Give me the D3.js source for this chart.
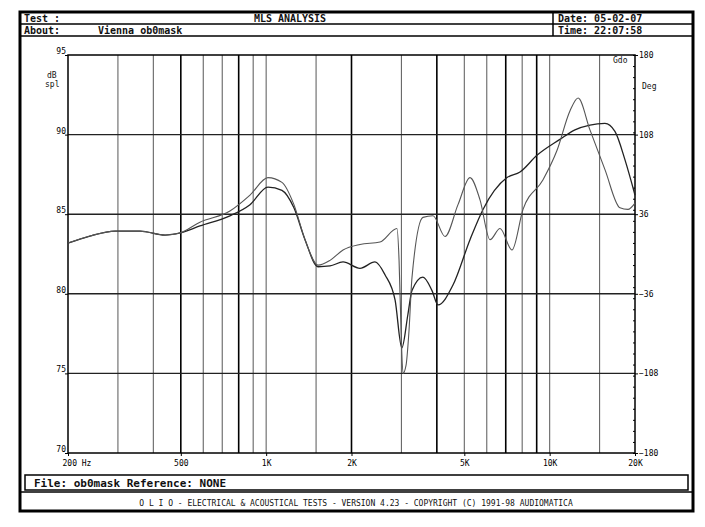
<!DOCTYPE html><html><head><meta charset="utf-8">
<script src="https://cdn.jsdelivr.net/npm/d3@7/dist/d3.min.js"></script>
<style>body{margin:0;background:#fff}text{font-family:"DejaVu Sans Mono",monospace;}</style></head><body>
<svg id="c" width="705" height="527"></svg>
<script>
const gridFreqs=[300,400,500,600,700,800,900,1000,1500,2000,3000,4000,5000,6000,7000,8000,9000,10000,15000];
const thickFreqs=[500,800,2000,4000,7000,9000];
const xTicks=[[200,"200  Hz"],[500,"500"],[1000,"1K"],[2000,"2K"],[5000,"5K"],[10000,"10K"],[20000,"20K"]];
const dbTicks=[95,90,85,80,75,70];
const degTicks=[180,108,36,-36,-108,-180];
const sharedF=[200,239,293,359,440,497];
const sharedD=[83.19,83.63,83.94,83.94,83.69,83.82];
const curveBF=[584,745,877,1015,1137,1253,1371,1524,1680,1867,2143,2520,2894,2943,2991,3039,3114,3191,3268,3573,3877,4275,4750,5236,5680,6160,6683,7365,8055,9466,10610,11800,12600,13870,15670,17700,18880,20000];
const curveBD=[84.5,85.2,86.2,87.3,87.0,85.6,83.4,81.8,82.1,82.75,83.1,83.25,84.1,82.1,77.7,75.0,75.5,77.7,81.0,84.8,84.9,83.6,85.6,87.3,85.9,83.4,84.1,82.75,85.3,87.15,89.0,91.5,92.3,90.3,87.8,85.4,85.3,85.7];
const curveAF=[584,745,877,1015,1137,1253,1371,1524,1680,1867,2143,2420,2625,2850,3010,3162,3268,3573,3846,4040,4560,5236,5820,7070,7860,9020,10870,12280,13870,15670,16990,18450,20000];
const curveAD=[84.26,84.9,85.6,86.7,86.5,85.4,83.4,81.7,81.75,82.0,81.6,82.0,81.2,79.6,76.6,78.7,80.2,81.05,80.2,79.3,80.55,83.4,85.3,87.3,87.65,88.7,89.7,90.3,90.6,90.7,90.2,88.4,86.2];

const svg=d3.select("#c");
const L=68,R=635,T=55,B=453;
const x=d3.scaleLog().domain([200,20000]).range([L,R]);
const y=d3.scaleLinear().domain([70,95]).range([B,T]);
const yr=d3.scaleLinear().domain([-180,180]).range([B,T]);
svg.append("rect").attr("x",20).attr("y",12).attr("width",673).attr("height",499).attr("fill","none").attr("stroke","#000").attr("stroke-width",3);
[[20,24,693,24],[20,36,693,36],[553,12,553,36],[20,492,693,492]].forEach(l=>svg.append("line").attr("x1",l[0]).attr("y1",l[1]).attr("x2",l[2]).attr("y2",l[3]).attr("stroke","#000").attr("stroke-width",1.5));
const txt=(tx,ty,s,o={})=>svg.append("text").attr("x",tx).attr("y",ty).text(s).attr("font-size",o.fs||10).attr("font-weight",o.fw||"bold").attr("text-anchor",o.a||"start").attr("fill","#111");
txt(24,22,"Test :");txt(290,22,"MLS ANALYSIS",{a:"middle"});txt(558,22,"Date: 05-02-07");
txt(24,34,"About:");txt(98,34,"Vienna ob0mask");txt(558,34,"Time: 22:07:58");
svg.append("rect").attr("x",25).attr("y",475).attr("width",663).attr("height",15).attr("fill","none").attr("stroke","#000").attr("stroke-width",1.5);
txt(34,487,"File: ob0mask  Reference: NONE",{fs:11});
txt(356,506,"O L I O  -  ELECTRICAL & ACOUSTICAL TESTS  -  VERSION 4.23  -  COPYRIGHT (C) 1991-98 AUDIOMATICA",{fs:8,a:"middle",fw:"normal"});
gridFreqs.forEach(f=>svg.append("line").attr("x1",x(f)).attr("x2",x(f)).attr("y1",T).attr("y2",B).attr("stroke",thickFreqs.includes(f)?"#000":"#666").attr("stroke-width",thickFreqs.includes(f)?1.6:1.1));
dbTicks.slice(1,-1).forEach(d=>svg.append("line").attr("x1",L).attr("x2",R).attr("y1",y(d)).attr("y2",y(d)).attr("stroke","#222").attr("stroke-width",1.4));
svg.append("rect").attr("x",L).attr("y",T).attr("width",R-L).attr("height",B-T).attr("fill","none").attr("stroke","#000").attr("stroke-width",1.5);
svg.append("g").attr("transform",`translate(${L},0)`).call(d3.axisLeft(y).tickValues(dbTicks).tickSize(3).tickFormat(d3.format("d"))).call(g=>{g.select(".domain").remove();g.selectAll("text").attr("font-size",8).attr("dy","-0.2em").attr("x",-2);});
svg.append("g").attr("transform",`translate(${R},0)`).call(d3.axisRight(yr).tickValues(degTicks).tickSize(3)).call(g=>{g.select(".domain").remove();g.selectAll("text").attr("font-size",8).attr("x",4);});
svg.append("g").attr("transform",`translate(${R},0)`).call(d3.axisLeft(yr).ticks(36).tickSize(2).tickFormat("")).call(g=>g.select(".domain").remove());
svg.append("g").attr("transform",`translate(0,${B})`).call(d3.axisBottom(x).tickValues(xTicks.map(d=>d[0])).tickSize(3).tickFormat((d,i)=>xTicks[i][1])).call(g=>{g.select(".domain").remove();g.selectAll("text").attr("font-size",8).attr("dy","0.9em");g.selectAll(".tick text").filter((d,i)=>i==0).attr("text-anchor","start").attr("dx",-6);});
txt(47,78,"dB",{fs:8,fw:"normal"});txt(45,87,"spl",{fs:8,fw:"normal"});
txt(642,89,"Deg",{fs:8,fw:"normal"});txt(613,63,"Gdo",{fs:8,fw:"normal"});
const line=d3.line().x(d=>x(d[0])).y(d=>y(d[1])).curve(d3.curveMonotoneX);
const mk=(F,D)=>sharedF.map((f,i)=>[f,sharedD[i]]).concat(F.map((f,i)=>[f,D[i]]));
svg.append("path").attr("d",line(mk(curveAF,curveAD))).attr("fill","none").attr("stroke","#222").attr("stroke-width",1.3);
svg.append("path").attr("d",line(mk(curveBF,curveBD))).attr("fill","none").attr("stroke","#555").attr("stroke-width",1.1);
</script></body></html>
